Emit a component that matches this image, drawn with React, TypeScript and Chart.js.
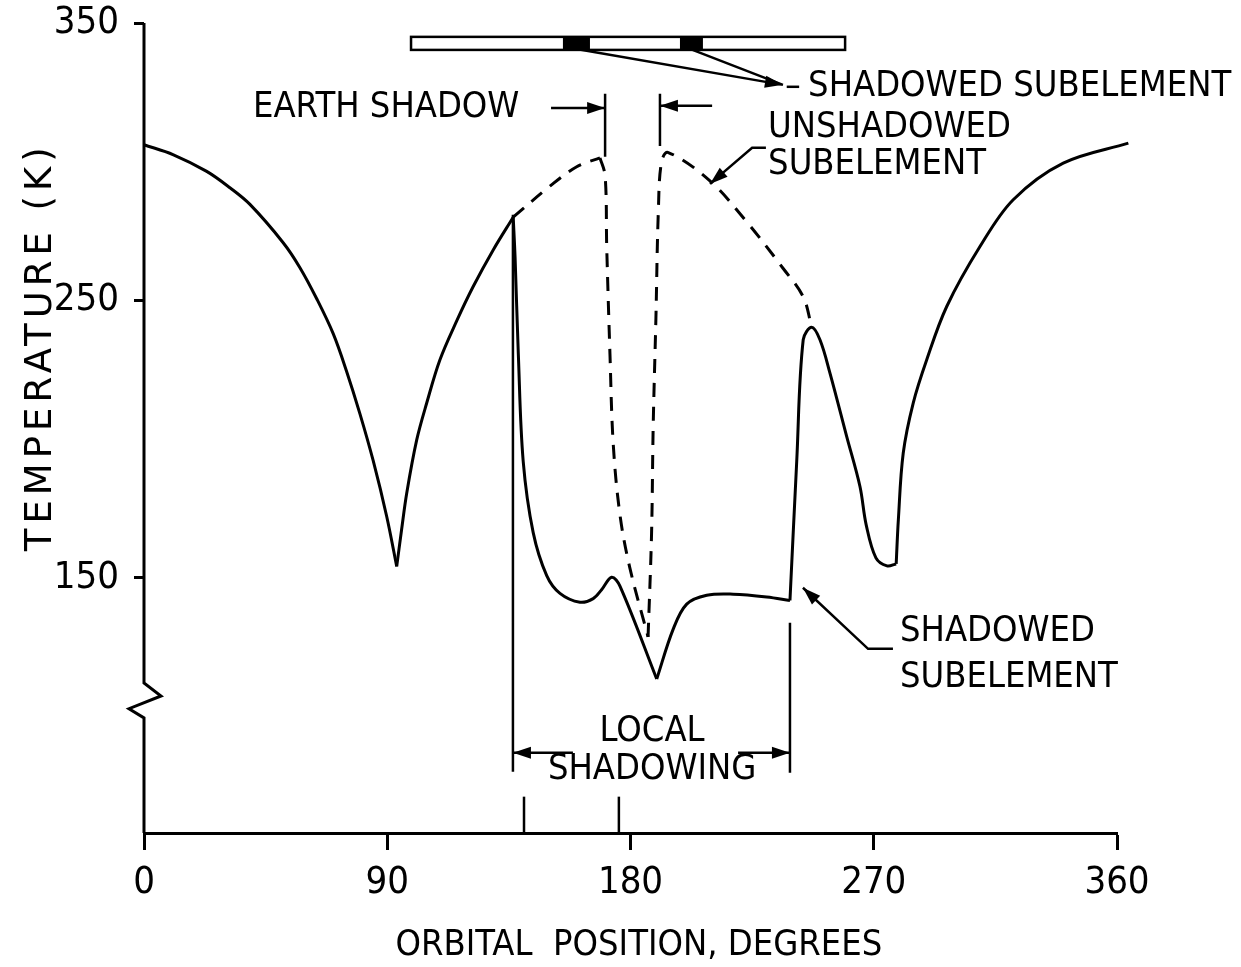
import React, { useEffect, useRef } from "react";
import { Chart, registerables } from "chart.js";

Chart.register(...registerables);

// ---- axis ranges / ticks ----
const X_MIN = 0;
const X_MAX = 360;
const Y_MIN = 58;
const Y_MAX = 350;
const xTickValues = [0, 90, 180, 270, 360];
const yTickValues = [150, 250, 350];

// ---- shadowed subelement (solid curve) ----
const solidDeg = [
  0, 10.9, 23.2, 31.8, 39.2, 51.5, 57.7, 63.9, 70.0, 75.0, 79.9, 84.8, 89.8, 93.5,
  95.3, 97.2, 100.9, 104.6, 109.5, 115.7, 121.8, 129.2, 136.6,
  137.3, 138.5, 140.3, 144.0, 149.0, 153.9, 161.3, 166.2, 169.3, 173.0, 176.1,
  189.7, 195.8, 200.8, 208.2, 218.0, 230.4, 239.0,
  241.5, 243.9, 247.0, 250.1, 253.8, 260.0, 264.9, 267.2, 270.8, 274.9, 278.3,
  279.1, 280.9, 284.6, 289.6, 297.0, 309.3, 321.6, 340.1, 364.2,
];
const solidTemp = [
  306.1, 302.5, 296.5, 290.6, 284.6, 270.8, 261.8, 250.6, 238.0, 224.3, 209.1, 192.2, 172.1, 154.1,
  167.3, 180.5, 199.7, 213.0, 228.6, 242.6, 255.0, 268.2, 280.0,
  265.4, 230.6, 192.0, 166.3, 150.8, 144.4, 141.2, 142.5, 145.7, 150.2, 147.0,
  113.5, 131.5, 140.5, 143.7, 144.1, 143.1, 141.8,
  192.0, 235.8, 240.3, 235.8, 223.8, 200.9, 182.9, 169.1, 157.2, 154.3, 155.0,
  170.9, 194.9, 213.0, 228.6, 247.8, 269.4, 286.3, 299.5, 306.7,
];
// sharp corners of the solid curve (degrees)
const solidCorners = [93.5, 136.6, 189.7, 239.0, 278.3];

// ---- unshadowed subelement (dashed curve) ----
const dashedDeg = [
  136.6, 150.2, 160.1, 168.7, 170.6, 171.2, 172.4, 173.6, 176.1, 179.8, 186.5,
  187.8, 188.4, 189.4, 190.3, 191.5, 194.0, 209.4, 223.0, 236.5, 243.9, 247.0,
];
const dashedTemp = [
  280.0, 291.2, 298.2, 301.4, 295.0, 269.3, 230.7, 198.4, 172.7, 153.4, 128.7,
  166.3, 204.9, 243.5, 282.1, 300.1, 303.3, 293.1, 278.3, 261.5, 251.3, 240.5,
];
const dashedCorners = [168.7, 186.5];

// ---- annotation anchors (data units) ----
const earthShadowDeg = [170.6, 190.9];
const localShadowDeg = [136.5, 239.0];
const axisMarkerDeg = [140.6, 175.7];
const axisBreakTemp = [112.1, 107.4, 102.8, 99.5];
const barDeg = [98.8, 259.4];
const barTemp = [345.0, 340.3];
const barBlocksDeg = [
  [155.0, 165.0],
  [198.3, 206.8],
];

const NUM_FONT = "'Liberation Sans Narrow', 'DejaVu Sans Condensed', 'DejaVu Sans', sans-serif";
const TXT_FONT = "'DejaVu Sans Condensed', 'DejaVu Sans', sans-serif";

function splitSegments(xs: number[], ys: number[], corners: number[]) {
  const segs: { x: number; y: number }[][] = [];
  let cur: { x: number; y: number }[] = [];
  xs.forEach((v, i) => {
    const p = { x: v, y: ys[i] };
    cur.push(p);
    if (corners.includes(v) && i > 0 && i < xs.length - 1) {
      segs.push(cur);
      cur = [p];
    }
  });
  if (cur.length > 1) segs.push(cur);
  return segs;
}

function arrowHead(ctx: CanvasRenderingContext2D, x1: number, y1: number, x2: number, y2: number, len = 18, half = 6) {
  const a = Math.atan2(y2 - y1, x2 - x1);
  ctx.beginPath();
  ctx.moveTo(x2, y2);
  ctx.lineTo(x2 - len * Math.cos(a) + half * Math.sin(a), y2 - len * Math.sin(a) - half * Math.cos(a));
  ctx.lineTo(x2 - len * Math.cos(a) - half * Math.sin(a), y2 - len * Math.sin(a) + half * Math.cos(a));
  ctx.closePath();
  ctx.fill();
}

function arrow(ctx: CanvasRenderingContext2D, x1: number, y1: number, x2: number, y2: number) {
  ctx.beginPath();
  ctx.moveTo(x1, y1);
  ctx.lineTo(x2, y2);
  ctx.stroke();
  arrowHead(ctx, x1, y1, x2, y2);
}

const annotationPlugin = {
  id: "annotations",
  afterDraw(chart: any) {
    const { ctx, chartArea } = chart;
    const xs = chart.scales.x;
    const ys = chart.scales.y;
    const X = (v: number) => xs.getPixelForValue(v);
    const Y = (v: number) => ys.getPixelForValue(v);
    ctx.save();
    ctx.strokeStyle = "#000";
    ctx.fillStyle = "#000";
    ctx.lineWidth = 3;
    ctx.lineJoin = "miter";

    // y axis with break
    const ax = chartArea.left;
    ctx.beginPath();
    ctx.moveTo(ax, chartArea.top);
    ctx.lineTo(ax, Y(axisBreakTemp[0]));
    ctx.lineTo(ax + 17, Y(axisBreakTemp[1]));
    ctx.lineTo(ax - 15, Y(axisBreakTemp[2]));
    ctx.lineTo(ax, Y(axisBreakTemp[3]));
    ctx.lineTo(ax, chartArea.bottom);
    ctx.stroke();

    // upward markers on x axis
    ctx.lineWidth = 2.5;
    axisMarkerDeg.forEach((d) => {
      ctx.beginPath();
      ctx.moveTo(X(d), chartArea.bottom);
      ctx.lineTo(X(d), Y(71.1));
      ctx.stroke();
    });

    // local shadowing
    ctx.beginPath();
    ctx.moveTo(X(localShadowDeg[0]), Y(280.9));
    ctx.lineTo(X(localShadowDeg[0]), Y(80.1));
    ctx.moveTo(X(localShadowDeg[1]), Y(133.8));
    ctx.lineTo(X(localShadowDeg[1]), Y(79.7));
    ctx.stroke();
    arrow(ctx, X(158.7), Y(86.9), X(localShadowDeg[0]), Y(86.9));
    arrow(ctx, X(219.8), Y(86.9), X(localShadowDeg[1]), Y(86.9));

    // earth shadow
    ctx.beginPath();
    ctx.moveTo(X(earthShadowDeg[0]), Y(324.5));
    ctx.lineTo(X(earthShadowDeg[0]), Y(301.8));
    ctx.moveTo(X(earthShadowDeg[1]), Y(324.5));
    ctx.lineTo(X(earthShadowDeg[1]), Y(305.7));
    ctx.stroke();
    arrow(ctx, X(150.6), Y(319.4), X(earthShadowDeg[0]), Y(319.4));
    arrow(ctx, X(210.2), Y(320.2), X(earthShadowDeg[1]), Y(320.2));

    // top bar (element sketch)
    ctx.lineWidth = 2.5;
    ctx.strokeRect(X(barDeg[0]), Y(barTemp[0]), X(barDeg[1]) - X(barDeg[0]), Y(barTemp[1]) - Y(barTemp[0]));
    barBlocksDeg.forEach(([a, b]) => {
      ctx.fillRect(X(a), Y(barTemp[0]), X(b) - X(a), Y(barTemp[1]) - Y(barTemp[0]));
    });
    // leaders from blocks to top label
    ctx.beginPath();
    ctx.moveTo(X(159.5), Y(340.7));
    ctx.lineTo(X(236.4), Y(327.7));
    ctx.moveTo(X(202.0), Y(340.7));
    ctx.lineTo(X(236.4), Y(327.7));
    ctx.stroke();
    arrowHead(ctx, X(159.5), Y(340.7), X(236.4), Y(327.7));
    ctx.beginPath();
    ctx.moveTo(X(237.8), Y(327.0));
    ctx.lineTo(X(242.4), Y(327.0));
    ctx.stroke();

    // unshadowed leader
    ctx.beginPath();
    ctx.moveTo(X(230.1), Y(305.0));
    ctx.lineTo(X(225.0), Y(305.0));
    ctx.lineTo(X(209.4), Y(292.0));
    ctx.stroke();
    arrowHead(ctx, X(225.0), Y(305.0), X(209.4), Y(292.0));

    // shadowed (lower) leader
    ctx.beginPath();
    ctx.moveTo(X(277.1), Y(124.4));
    ctx.lineTo(X(267.9), Y(124.4));
    ctx.lineTo(X(243.8), Y(146.4));
    ctx.stroke();
    arrowHead(ctx, X(267.9), Y(124.4), X(243.8), Y(146.4));

    // texts
    ctx.font = `36px ${TXT_FONT}`;
    ctx.textBaseline = "middle";
    ctx.textAlign = "left";
    ctx.fillText("SHADOWED SUBELEMENT", X(245.7), Y(327.0));
    ctx.fillText("EARTH SHADOW", X(40.3), Y(319.4));
    ctx.fillText("UNSHADOWED", X(230.9), Y(312.2));
    ctx.fillText("SUBELEMENT", X(230.9), Y(298.9));
    ctx.fillText("SHADOWED", X(279.7), Y(130.5));
    ctx.fillText("SUBELEMENT", X(279.7), Y(114.0));
    ctx.textAlign = "center";
    ctx.fillText("LOCAL", X(188.0), Y(94.5));
    ctx.fillText("SHADOWING", X(188.0), Y(80.8));

    // axis titles
    ctx.textAlign = "center";
    ctx.fillText("ORBITAL  POSITION, DEGREES", X(183.1), chartArea.bottom + 113);

    ctx.save();
    ctx.translate(chartArea.left - 103, Y(233.3));
    ctx.rotate(-Math.PI / 2);
    ctx.font = `37px 'DejaVu Sans', sans-serif`;
    (ctx as any).letterSpacing = "5px";
    ctx.textAlign = "center";
    ctx.fillText("TEMPERATURE (K)", 0, 0);
    ctx.restore();

    ctx.restore();
  },
};

export default function App() {
  const canvasRef = useRef<HTMLCanvasElement | null>(null);

  useEffect(() => {
    document.body.style.margin = "0";
    const canvas = canvasRef.current;
    if (!canvas) return;
    const lineStyle = {
      borderColor: "#000",
      borderWidth: 3,
      pointRadius: 0,
      fill: false,
      tension: 0.35,
      clip: false as any,
    };
    const solidSets = splitSegments(solidDeg, solidTemp, solidCorners).map((seg, i) => ({
      label: `Shadowed subelement ${i}`,
      data: seg,
      ...lineStyle,
    }));
    const dashedSets = splitSegments(dashedDeg, dashedTemp, dashedCorners).map((seg, i) => ({
      label: `Unshadowed subelement ${i}`,
      data: seg,
      ...lineStyle,
      borderDash: [14, 10],
    }));
    const chart = new Chart(canvas, {
      type: "line",
      data: { datasets: [...solidSets, ...dashedSets] },
      options: {
        responsive: false,
        animation: false,
        devicePixelRatio: 1,
        layout: { padding: { left: 0, top: 23, right: 124, bottom: 0 } },
        plugins: {
          legend: { display: false },
          tooltip: { enabled: false },
          title: { display: false },
        },
        scales: {
          x: {
            type: "linear",
            min: X_MIN,
            max: X_MAX,
            afterBuildTicks: (s: any) => {
              s.ticks = xTickValues.map((v) => ({ value: v }));
            },
            afterFit: (s: any) => {
              s.height = 134;
              s.paddingLeft = 0;
              s.paddingRight = 0;
            },
            border: { display: true, color: "#000", width: 3 },
            grid: {
              drawOnChartArea: false,
              drawTicks: true,
              tickLength: 17,
              tickWidth: 3,
              tickColor: "#000",
              color: "#000",
            },
            ticks: {
              color: "#000",
              font: { family: NUM_FONT, size: 38 },
              padding: 10,
              maxRotation: 0,
              autoSkip: false,
            },
          },
          y: {
            type: "linear",
            min: Y_MIN,
            max: Y_MAX,
            afterBuildTicks: (s: any) => {
              s.ticks = yTickValues.map((v) => ({ value: v }));
            },
            afterFit: (s: any) => {
              s.width = 144;
              s.paddingTop = 0;
              s.paddingBottom = 0;
            },
            border: { display: false },
            grid: {
              drawOnChartArea: false,
              drawTicks: true,
              tickLength: 10,
              tickWidth: 3,
              tickColor: "#000",
              color: "#000",
            },
            ticks: {
              color: "#000",
              font: { family: NUM_FONT, size: 38 },
              padding: 15,
              autoSkip: false,
            },
          },
        },
      },
      plugins: [annotationPlugin],
    });
    return () => chart.destroy();
  }, []);

  return (
    <div style={{ width: 1241, height: 967, background: "#fff" }}>
      <canvas ref={canvasRef} width={1241} height={967} style={{ display: "block" }} />
    </div>
  );
}
